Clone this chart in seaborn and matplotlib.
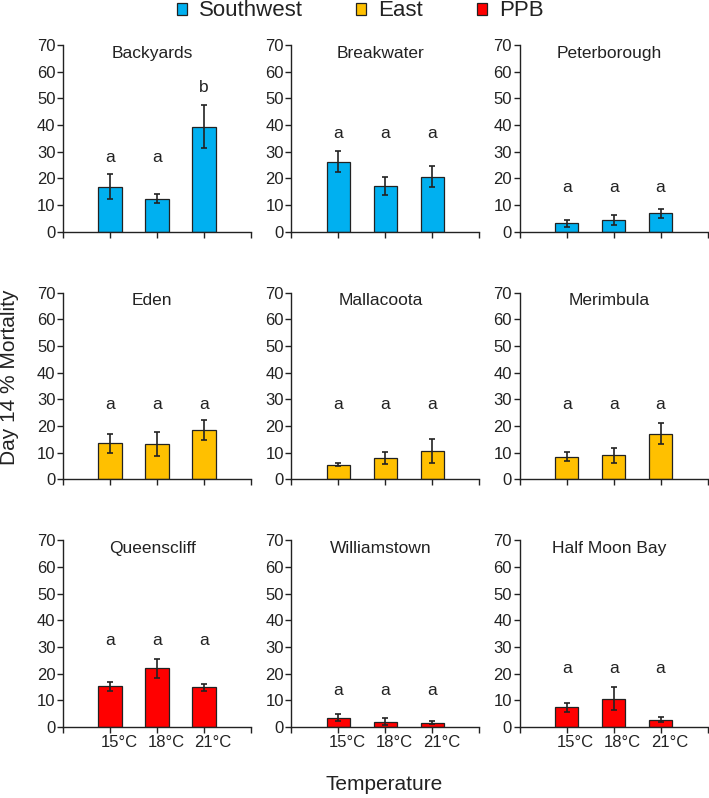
import numpy as np
import pandas as pd
import matplotlib
matplotlib.use("Agg")
import matplotlib.pyplot as plt
import matplotlib.transforms as mtransforms
from matplotlib.patches import Patch
import seaborn as sns

# data
sites = ["Backyards", "Breakwater", "Peterborough",
         "Eden", "Mallacoota", "Merimbula",
         "Queenscliff", "Williamstown", "Half Moon Bay"]
regions = ["Southwest"] * 3 + ["East"] * 3 + ["PPB"] * 3
temps = ["15°C", "18°C", "21°C"]
temp_pos = [1, 2, 3]

mortality = [[16.9, 12.3, 39.4], [26.3, 17.1, 20.6], [3.1, 4.4, 7.0],
             [13.5, 13.2, 18.5], [5.5, 7.9, 10.6], [8.5, 9.0, 17.1],
             [15.3, 22.0, 14.9], [3.5, 2.0, 1.6], [7.4, 10.6, 2.7]]
mortality_se = [[4.7, 1.7, 8.1], [4.0, 3.5, 3.9], [1.2, 1.7, 1.7],
                [3.6, 4.4, 3.6], [0.6, 2.2, 4.4], [1.6, 2.7, 4.0],
                [1.7, 3.5, 1.3], [1.2, 1.4, 0.5], [1.7, 4.4, 1.0]]
letters = [["a", "a", "b"]] + [["a", "a", "a"]] * 8
letter_y = [[26, 26, 52.5], [35, 35, 35], [15, 15, 15],
            [26.4, 26.4, 26.4], [26.4, 26.4, 26.4], [26.5, 26.5, 26.5],
            [30.8, 30.8, 30.8], [12, 12, 12], [20.3, 20.3, 20.3]]

region_colors = {"Southwest": "#00b0f0", "East": "#ffc000", "PPB": "#ff0000"}

rows = []
for s, r, m, e in zip(sites, regions, mortality, mortality_se):
    for t, x, mv, ev in zip(temps, temp_pos, m, e):
        rows.append({"site": s, "region": r, "temp": t, "x": x, "mortality": mv, "se": ev})
df = pd.DataFrame(rows)

sns.set_theme(style="white")
plt.rcParams["font.family"] = ["Liberation Sans", "DejaVu Sans"]
ink = "#222222"

fig, axes = plt.subplots(3, 3, figsize=(7.09, 7.98), dpi=100)
fig.subplots_adjust(left=0.089, right=0.998, top=0.9436, bottom=0.089,
                    wspace=0.215, hspace=0.326)

# excel-style tick labels sit a little right of the ticks
offset = mtransforms.ScaledTranslation(0.09, 0, fig.dpi_scale_trans)

for i, (ax, site) in enumerate(zip(axes.flat, sites)):
    d = df[df.site == site]
    sns.barplot(data=d, x="x", y="mortality", hue="region", palette=region_colors,
                native_scale=True, width=0.5, errorbar=None, legend=False,
                saturation=1, edgecolor=ink, linewidth=0.9, ax=ax)
    ax.errorbar(d["x"], d["mortality"], yerr=d["se"], fmt="none", ecolor=ink,
                elinewidth=1.2, capsize=2, capthick=1.2)
    for x, ly, lt in zip(temp_pos, letter_y[i], letters[i]):
        ax.text(x, ly, lt, ha="center", va="baseline", fontsize=12.5, color=ink)
    ax.text(1.9, 67, site, ha="center", va="center", fontsize=12.5, color=ink)

    ax.set_xlim(0, 4)
    ax.set_ylim(0, 70)
    ax.set_yticks(range(0, 71, 10))
    ax.set_xticks([0, 1, 2, 3, 4])
    ax.set_xlabel("")
    ax.set_ylabel("")
    sns.despine(ax=ax)
    for sp in ("left", "bottom"):
        ax.spines[sp].set_color(ink)
        ax.spines[sp].set_linewidth(1.0)
    ax.tick_params(axis="both", direction="out", length=4, width=1.0, color=ink,
                   labelcolor=ink, labelsize=12, pad=1.5, left=True, bottom=True)
    if i >= 6:
        ax.set_xticklabels(["", "15°C", "18°C", "21°C", ""])
        for lab in ax.get_xticklabels():
            lab.set_transform(lab.get_transform() + offset)
    else:
        ax.set_xticklabels([])

fig.text(384 / 709, 1 - 785 / 798, "Temperature", ha="center", va="center",
         fontsize=15, color=ink)
fig.text(10 / 709, 1 - 377 / 798, "Day 14 % Mortality", ha="center", va="center",
         rotation=90, fontsize=15, color=ink)

handles = [Patch(facecolor=region_colors[r], edgecolor=ink, linewidth=0.9, label=r)
           for r in ["Southwest", "East", "PPB"]]
fig.legend(handles=handles, loc="center", bbox_to_anchor=(360 / 709, 1 - 11 / 798),
           ncol=3, frameon=False, fontsize=16, handlelength=0.45, handleheight=0.45,
           handletextpad=0.55, columnspacing=2.4, labelcolor=ink, borderpad=0)

fig.savefig("out.png", dpi=100)
